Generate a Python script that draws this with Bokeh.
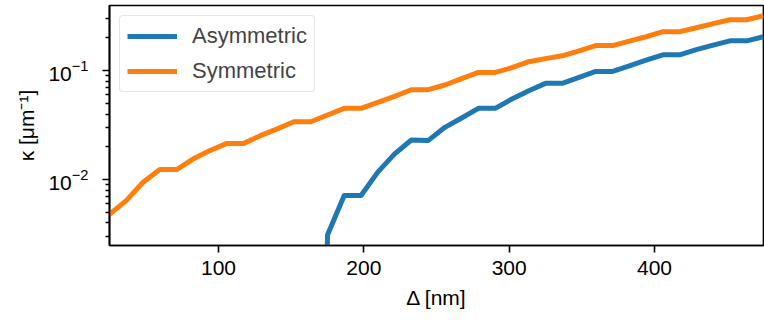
import numpy as np
from bokeh.plotting import figure
from bokeh.models import FixedTicker, Legend, LegendItem, Range1d, ColumnDataSource
from bokeh.embed import file_html
from bokeh.resources import INLINE

# Δ [nm]
delta = [25.0, 36.5, 48.1, 59.6, 71.2, 82.7, 94.2, 105.8, 117.3, 128.8,
         140.4, 151.9, 163.5, 175.0, 186.5, 198.1, 209.6, 221.2, 232.7, 244.2,
         255.8, 267.3, 278.8, 290.4, 301.9, 313.5, 325.0, 336.5, 348.1, 359.6,
         371.2, 382.7, 394.2, 405.8, 417.3, 428.8, 440.4, 451.9, 463.5, 475.0]

# κ [μm^-1]
asymmetric = [0, 0, 0, 0, 0, 0, 0, 0, 0, 0,
              0, 0, 0, 0.0031, 0.00713, 0.00713, 0.0117, 0.0172, 0.0231, 0.0228,
              0.0302, 0.0368, 0.0451, 0.0451, 0.0550, 0.0655, 0.0765, 0.0765, 0.0868, 0.0985,
              0.0985, 0.111, 0.125, 0.140, 0.140, 0.156, 0.172, 0.188, 0.188, 0.205]

symmetric = [0.0048, 0.00641, 0.00944, 0.01235, 0.01235, 0.0155, 0.0185, 0.0215, 0.0215, 0.0253,
             0.0292, 0.0340, 0.0340, 0.0392, 0.0451, 0.0451, 0.0512, 0.0581, 0.0669, 0.0669,
             0.0739, 0.0845, 0.0965, 0.0965, 0.1065, 0.121, 0.129, 0.137, 0.152, 0.170,
             0.170, 0.187, 0.205, 0.228, 0.228, 0.248, 0.271, 0.294, 0.294, 0.320]

series_labels = ["Asymmetric", "Symmetric"]
x_ticks = [100, 200, 300, 400]
y_major = [0.01, 0.1]
y_minor = [0.003, 0.004, 0.005, 0.006, 0.007, 0.008, 0.009,
           0.02, 0.03, 0.04, 0.05, 0.06, 0.07, 0.08, 0.09, 0.2, 0.3, 0.4]

FONT = "Liberation Sans"
BLUE = "#1f77b4"
ORANGE = "#ff7f0e"

# zeros are clipped like a log axis would (drawn far below the frame)
asym_plot = np.clip(np.array(asymmetric, dtype=float), 1e-12, None)
src = ColumnDataSource(dict(x=delta, a=asym_plot, s=symmetric))

p = figure(width=764, height=320, y_axis_type="log",
           x_range=Range1d(25, 475), y_range=Range1d(0.00248, 0.397),
           output_backend="svg", toolbar_location=None,
           min_border_left=109, min_border_right=1, min_border_top=5, min_border_bottom=75)

r1 = p.line("x", "a", source=src, line_color=BLUE, line_width=5, line_join="round")
r2 = p.line("x", "s", source=src, line_color=ORANGE, line_width=5, line_join="round")

p.xgrid.visible = False
p.ygrid.visible = False
p.outline_line_color = "black"
p.outline_line_width = 1.7
p.background_fill_color = "white"
p.border_fill_color = "white"

p.xaxis.ticker = FixedTicker(ticks=x_ticks)
p.yaxis.ticker = FixedTicker(ticks=y_major, minor_ticks=y_minor)

for ax in (p.xaxis[0], p.yaxis[0]):
    ax.axis_line_color = "black"
    ax.axis_line_width = 1.7
    ax.major_tick_line_color = "black"
    ax.major_tick_line_width = 1.6
    ax.major_tick_out = 7
    ax.major_tick_in = 0
    ax.minor_tick_line_color = "black"
    ax.minor_tick_line_width = 1.3
    ax.minor_tick_out = 4
    ax.minor_tick_in = 0
    ax.major_label_text_font = FONT
    ax.major_label_text_font_size = "21px"
    ax.major_label_text_color = "black"
    ax.axis_label_text_font = FONT
    ax.axis_label_text_font_size = "21px"
    ax.axis_label_text_font_style = "normal"
    ax.axis_label_text_color = "black"

p.xaxis.minor_tick_line_color = None
p.xaxis.axis_label = "Δ [nm]"
p.xaxis.major_label_standoff = 8
p.xaxis.axis_label_standoff = 8
p.yaxis.axis_label = "κ [μm⁻¹]"
p.yaxis.major_label_standoff = 14
p.yaxis.axis_label_standoff = 7

legend = Legend(items=[LegendItem(label=series_labels[0], renderers=[r1]),
                       LegendItem(label=series_labels[1], renderers=[r2])],
                location="top_left", margin=10, padding=7, spacing=9,
                glyph_width=50, glyph_height=22, label_height=22, label_standoff=15,
                label_text_font=FONT, label_text_font_size="22px",
                border_line_color="#cccccc", border_line_width=1.5, border_radius=4,
                background_fill_alpha=0.8)
p.add_layout(legend)

open("out.html", "w").write(file_html(p, INLINE))
